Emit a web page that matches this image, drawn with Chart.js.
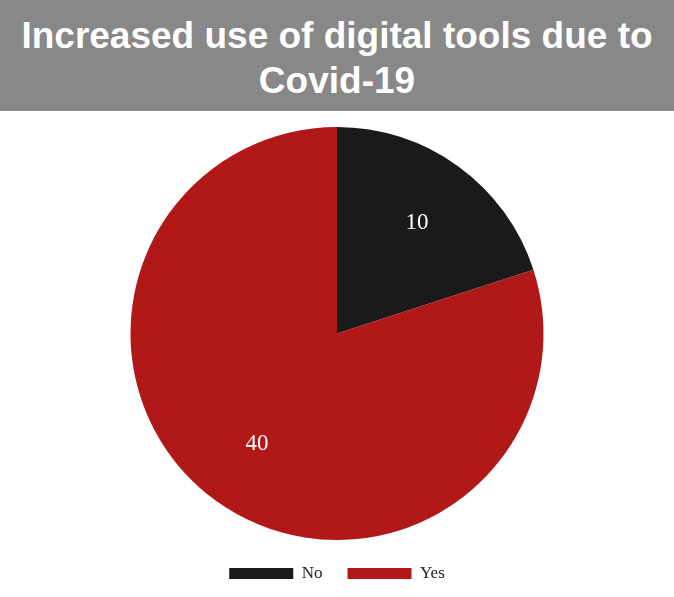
<!DOCTYPE html>
<html>
<head>
<meta charset="utf-8">
<script src="https://cdn.jsdelivr.net/npm/chart.js@4/dist/chart.umd.min.js"></script>
<style>
  body { margin: 0; background: #fff; }
  #header {
    width: 674px; height: 111px; background: #888888;
    color: #fff; font: bold 37px "Liberation Sans", Arial, sans-serif;
    text-align: center; line-height: 45px; box-sizing: border-box; padding-top: 13px;
  }
  #wrap { width: 674px; height: 486px; position: relative; }
</style>
</head>
<body>
<div id="header">Increased use of digital tools due to<br>Covid-19</div>
<div id="wrap"><canvas id="myChart"></canvas></div>
<script>
// answers to the question
var labels = ['No', 'Yes'];
var counts = [10, 40];
var colors = ['#1a1a1a', '#b11818'];

// writes each slice's value inside it
var sliceValues = {
    id: 'sliceValues',
    afterDatasetsDraw: function (chart) {
        var ctx = chart.ctx;
        var meta = chart.getDatasetMeta(0);
        ctx.save();
        ctx.fillStyle = '#fff';
        ctx.font = '23px "Liberation Serif", "Times New Roman", serif';
        ctx.textAlign = 'center';
        ctx.textBaseline = 'middle';
        meta.data.forEach(function (arc, i) {
            var mid = (arc.startAngle + arc.endAngle) / 2;
            var r = arc.outerRadius * 0.66;
            ctx.fillText(counts[i], arc.x + Math.cos(mid) * r, arc.y + Math.sin(mid) * r);
        });
        ctx.restore();
    }
};

var ctx = document.getElementById('myChart').getContext('2d');

var myPieChart = new Chart(ctx, {
    type: 'pie',
    data: {
        labels: labels,
        datasets: [{
            data: counts,
            backgroundColor: colors,
            borderWidth: 0
        }]
    },
    options: {
        responsive: true,
        maintainAspectRatio: false,
        animation: false,
        layout: { padding: { top: 16, bottom: 5 } },
        plugins: {
            tooltip: { enabled: false },
            legend: {
                position: 'bottom',
                labels: {
                    boxWidth: 64,
                    boxHeight: 11,
                    padding: 25,
                    color: '#222',
                    font: { family: '"Liberation Serif", "Times New Roman", serif', size: 17 }
                }
            }
        }
    },
    plugins: [sliceValues]
});
</script>
</body>
</html>
